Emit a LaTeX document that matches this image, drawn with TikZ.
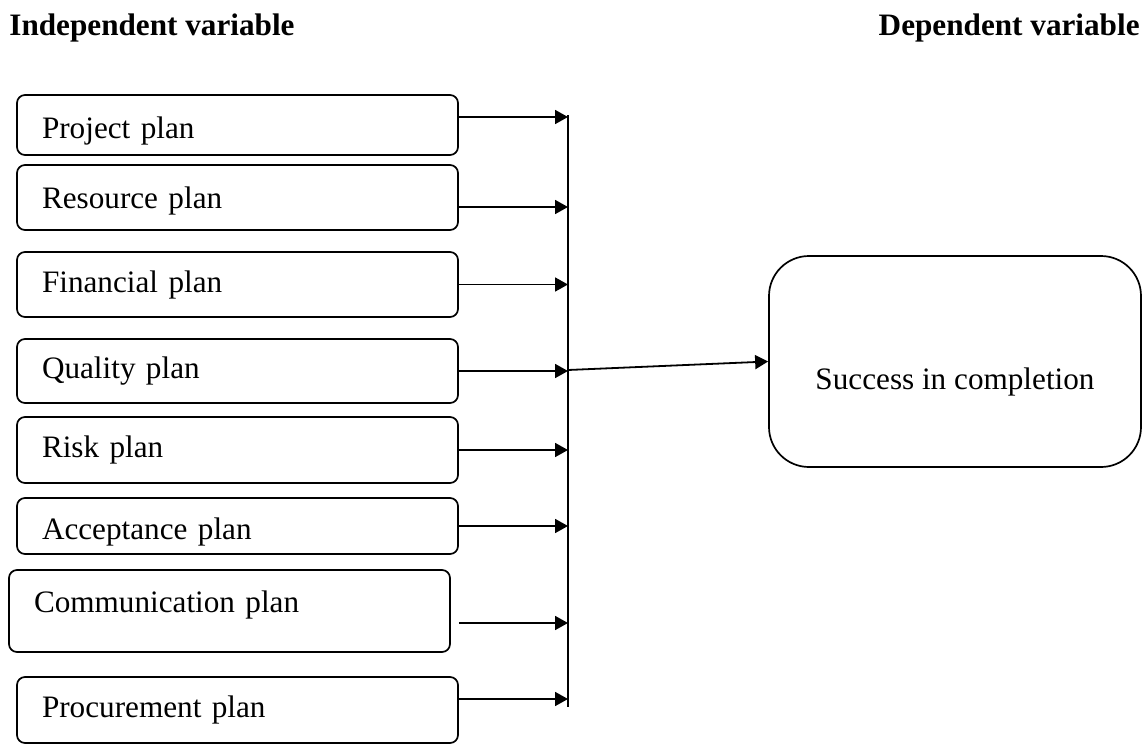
\documentclass[tikz,border=0pt]{standalone}
\usepackage{fontspec}
\setmainfont{Liberation Serif}
\usetikzlibrary{arrows.meta, positioning, calc}

\begin{document}
\begin{tikzpicture}[
  x=0.5pt, y=-0.5pt,
  plan/.style={rectangle, draw, rounded corners=4pt, line width=0.85pt,
    minimum width=220.5pt, text width=195.5pt, inner xsep=12.5pt,
    font=\fontsize{15.6}{18}\selectfont},
  result/.style={rectangle, draw, rounded corners=20pt, line width=0.85pt,
    minimum width=186pt, minimum height=105.5pt,
    font=\fontsize{15.6}{18}\selectfont},
  heading/.style={font=\fontsize{15.6}{18}\selectfont\bfseries, inner sep=0pt},
  arrow/.style={-{Triangle[length=6.5pt, width=7pt]}, line width=0.9pt}
]
\useasboundingbox (0,0) rectangle (1147,744);

% Headings
\node[heading, anchor=base west] (indep) at (9,35) {Independent variable};
\node[heading, anchor=base east] (dep) at (1140,35) {Dependent variable};

% Plans
\node[plan, minimum height=30pt, text height=16.7pt] (proj) at (237.5,125) {Project plan};
\node[plan, minimum height=32.5pt, text height=14.2pt] (res) at (237.5,197.5) {Resource plan};
\node[plan, minimum height=32.5pt] (fin) at (237.5,284.5) {Financial plan};
\node[plan, minimum height=32pt] (qual) at (237.5,371) {Quality plan};
\node[plan, minimum height=33pt] (risk) at (237.5,450) {Risk plan};
\node[plan, minimum height=28pt, text height=16.7pt] (acc) at (237.5,526) {Acceptance plan};
\node[plan, minimum height=41pt, text depth=9.4pt] (comm) at (229.5,611) {Communication plan};
\node[plan, minimum height=33pt] (proc) at (237.5,710) {Procurement plan};

% Result
\node[result, text height=30.9pt] (succ) at (955,361.5) {Success in completion};

% Collector line
\coordinate (bustop) at (568,115);
\coordinate (busbot) at (568,707);
\coordinate (hub) at (568,370);
\draw[line width=1pt] (bustop) -- (busbot);

% Arrows
\draw[arrow] ([yshift=4pt]proj.east) -- ([yshift=4pt]proj.east -| bustop);
\draw[arrow] ([yshift=-4.75pt]res.east) -- ([yshift=-4.75pt]res.east -| bustop);
\draw[arrow] (fin.east) -- (fin.east -| bustop);
\draw[arrow] (qual.east) -- (qual.east -| bustop);
\draw[arrow] (risk.east) -- (risk.east -| bustop);
\draw[arrow] (acc.east) -- (acc.east -| bustop);
\draw[arrow] ([xshift=4pt, yshift=-6pt]comm.east) -- ([yshift=-6pt]comm.east -| bustop);
\draw[arrow] ([yshift=5.5pt]proc.east) -- ([yshift=5.5pt]proc.east -| bustop);
\draw[arrow] (hub) -- (succ.west);
\end{tikzpicture}
\end{document}
